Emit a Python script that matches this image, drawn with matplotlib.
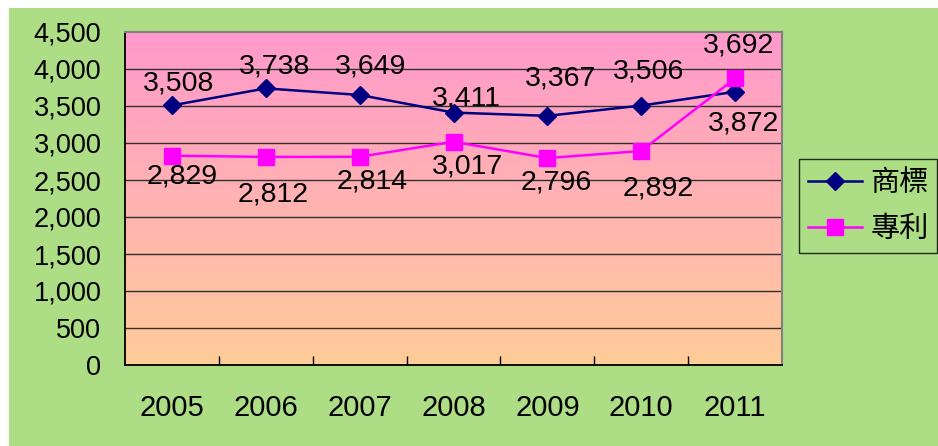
import matplotlib
matplotlib.use("Agg")
import matplotlib.pyplot as plt
import numpy as np
from matplotlib.colors import LinearSegmentedColormap

# data
years = ['2005', '2006', '2007', '2008', '2009', '2010', '2011']
trademark = [3508, 3738, 3649, 3411, 3367, 3506, 3692]   # 商標
patent = [2829, 2812, 2814, 3017, 2796, 2892, 3872]      # 專利
series_names = ['商標', '專利']
y_ticks = [0, 500, 1000, 1500, 2000, 2500, 3000, 3500, 4000, 4500]

# label offsets in pixels (dx, dy), positive dy = up
tm_offsets = [(7, 22), (9, 22), (11, 28), (13, 14), (13, 37), (7, 34), (3, 46)]
pt_offsets = [(10, -21), (7, -38), (13, -25), (14, -25), (9, -24), (17, -38), (8, -45)]

GREEN = '#addd85'
NUM_FONT = ['Liberation Sans', 'DejaVu Sans']
CJK_FONT = ['Noto Sans CJK TC', 'DejaVu Sans']

fig = plt.figure(figsize=(9.38, 4.46), dpi=100, facecolor='white')
# green panel with white margin at top/left
bg = plt.Rectangle((9 / 938, 0), 1, 1 - 8 / 446, transform=fig.transFigure,
                   facecolor=GREEN, edgecolor='none', zorder=-10)
fig.add_artist(bg)

ax = fig.add_axes([125 / 938, 1 - 365 / 446, 657 / 938, 333 / 446])
ax.set_zorder(1)
ax.patch.set_visible(False)
x = np.arange(len(years))

# gradient background pink -> peach
cmap = LinearSegmentedColormap.from_list('pp', ['#ffcc99', '#ff99cc'])
grad = np.linspace(0, 1, 256).reshape(-1, 1)
ax.imshow(grad, extent=[-0.5, 6.5, 0, 4500], origin='lower', aspect='auto',
          cmap=cmap, zorder=0)

for yv in y_ticks[1:-1]:
    ax.axhline(yv, color='#303030', lw=1.0, zorder=1)

ax.plot(x, trademark, color='#000080', lw=1.8, marker='D', ms=9,
        mec='#000080', label=series_names[0], zorder=3)
ax.plot(x, patent, color='#ff00ff', lw=1.8, marker='s', ms=11,
        mec='#ff00ff', label=series_names[1], zorder=3)

for i in range(len(years)):
    dx, dy = tm_offsets[i]
    ax.annotate(f'{trademark[i]:,}', (x[i], trademark[i]), xytext=(dx * 0.72, dy * 0.72),
                textcoords='offset points', ha='center', va='center',
                fontsize=20.5, family=NUM_FONT, zorder=4)
    dx, dy = pt_offsets[i]
    ax.annotate(f'{patent[i]:,}', (x[i], patent[i]), xytext=(dx * 0.72, dy * 0.72),
                textcoords='offset points', ha='center', va='center',
                fontsize=20.5, family=NUM_FONT, zorder=4)

ax.set_xlim(-0.5, 6.5)
ax.set_ylim(0, 4500)
ax.set_yticks(y_ticks)
ax.set_yticklabels([f'{v:,}' for v in y_ticks], fontsize=19.5, family=NUM_FONT)
ax.set_xticks(x)
ax.set_xticklabels(years, fontsize=21, family=NUM_FONT)
ax.set_xticks(np.arange(0.5, 6, 1), minor=True)
ax.tick_params(axis='y', length=0, pad=17)
ax.tick_params(axis='x', which='major', length=0, pad=21)
ax.tick_params(axis='x', which='minor', direction='in', length=6.5, width=1, color='black')

for side in ['top', 'right']:
    ax.spines[side].set_color('#808080')
    ax.spines[side].set_linewidth(1.5)
for side in ['left', 'bottom']:
    ax.spines[side].set_color('black')
    ax.spines[side].set_linewidth(1.3)

leg = fig.legend(loc='upper left', bbox_to_anchor=(799 / 938, 1 - 159 / 446),
                 borderaxespad=0, prop={'family': CJK_FONT, 'size': 21},
                 handlelength=1.85, handletextpad=0.3, labelspacing=0.55,
                 borderpad=0.3, frameon=True, fancybox=False)
leg.get_frame().set_facecolor(GREEN)
leg.get_frame().set_edgecolor('black')
leg.get_frame().set_linewidth(1.0)

fig.savefig('out.png', dpi=100)
